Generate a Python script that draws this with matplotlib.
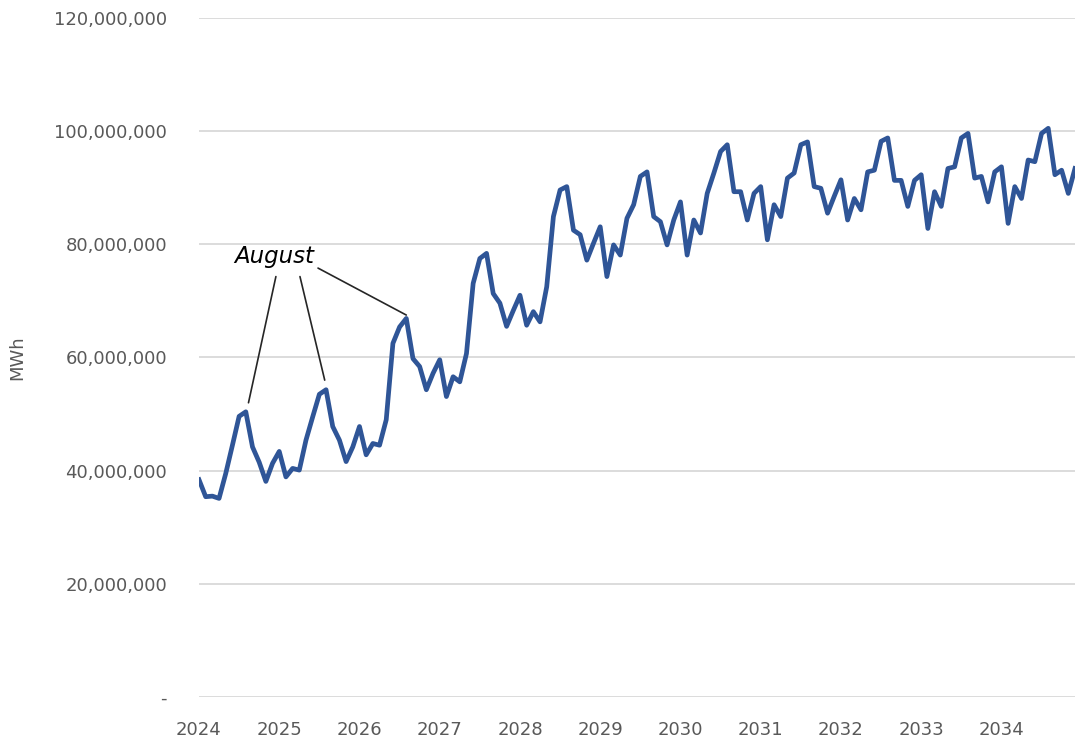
import numpy as np
import matplotlib
matplotlib.use("Agg")
import matplotlib.pyplot as plt
from matplotlib.ticker import FuncFormatter

# monthly energy, million MWh, Jan 2024 .. Dec 2034
mwh_2024 = [38.4, 35.4, 35.5, 35.1, 39.5, 44.5, 49.6, 50.4, 44.2, 41.5, 38.1, 41.3]
mwh_2025 = [43.4, 38.9, 40.4, 40.1, 45.4, 49.5, 53.5, 54.3, 47.8, 45.4, 41.6, 44.2]
mwh_2026 = [47.8, 42.8, 44.8, 44.5, 49.0, 62.5, 65.4, 66.9, 59.8, 58.4, 54.3, 57.2]
mwh_2027 = [59.6, 53.1, 56.6, 55.7, 60.7, 73.1, 77.5, 78.4, 71.3, 69.6, 65.5, 68.3]
mwh_2028 = [71.0, 65.7, 68.1, 66.3, 72.5, 84.9, 89.6, 90.2, 82.5, 81.7, 77.2, 80.2]
mwh_2029 = [83.1, 74.3, 79.9, 78.1, 84.6, 87.0, 92.0, 92.8, 84.9, 84.0, 79.9, 84.3]
mwh_2030 = [87.5, 78.1, 84.3, 82.0, 89.0, 92.6, 96.4, 97.6, 89.3, 89.3, 84.3, 89.0]
mwh_2031 = [90.2, 80.8, 87.0, 84.9, 91.7, 92.6, 97.6, 98.1, 90.2, 89.9, 85.5, 88.5]
mwh_2032 = [91.4, 84.3, 88.1, 86.1, 92.8, 93.1, 98.2, 98.8, 91.3, 91.3, 86.7, 91.3]
mwh_2033 = [92.3, 82.8, 89.3, 86.7, 93.4, 93.7, 98.8, 99.6, 91.7, 92.0, 87.5, 92.8]
mwh_2034 = [93.7, 83.7, 90.2, 88.1, 94.9, 94.6, 99.6, 100.5, 92.3, 93.1, 89.0, 93.4]

years = ["2024", "2025", "2026", "2027", "2028", "2029", "2030", "2031", "2032", "2033", "2034"]

mwh = np.array(mwh_2024 + mwh_2025 + mwh_2026 + mwh_2027 + mwh_2028 + mwh_2029
               + mwh_2030 + mwh_2031 + mwh_2032 + mwh_2033 + mwh_2034) * 1e6
months = np.arange(len(mwh))

fig = plt.figure(figsize=(10.78, 7.40), dpi=100)
ax = fig.add_axes([0.1846, 0.0581, 0.8126, 0.9176])

ax.plot(months, mwh, color="#2F5597", lw=3.4, solid_joinstyle="round", zorder=3)

ax.set_xlim(0, len(mwh) - 1)
ax.set_ylim(0, 120e6)
ax.set_yticks(np.arange(0, 120e6 + 1, 20e6))
ax.yaxis.set_major_formatter(FuncFormatter(lambda v, p: "-" if v == 0 else f"{v:,.0f}"))
ax.set_xticks(np.arange(0, len(mwh), 12))
ax.set_xticklabels(years)

ax.grid(axis="y", color="#d9d9d9", lw=1.3)
ax.set_axisbelow(True)
for s in ax.spines.values():
    s.set_visible(False)
ax.tick_params(axis="both", length=0, labelsize=13, colors="#595959")
ax.tick_params(axis="y", pad=23)
ax.tick_params(axis="x", pad=17)
ax.set_ylabel("MWh", fontsize=13, color="#595959", labelpad=20)

# August callout
ax.text(11.2, 77.8e6, "August", fontsize=16.5, style="italic", ha="center", va="center")
callouts = [((11.5, 74.3e6), (7.4, 52.0e6)),
            ((15.1, 74.3e6), (18.8, 56.0e6)),
            ((17.8, 75.8e6), (31.0, 67.5e6))]
for start, end in callouts:
    ax.annotate("", xy=end, xytext=start,
                arrowprops=dict(arrowstyle="-", color="#262626", lw=1.2, shrinkA=0, shrinkB=0))

fig.savefig("out.png", dpi=100)
